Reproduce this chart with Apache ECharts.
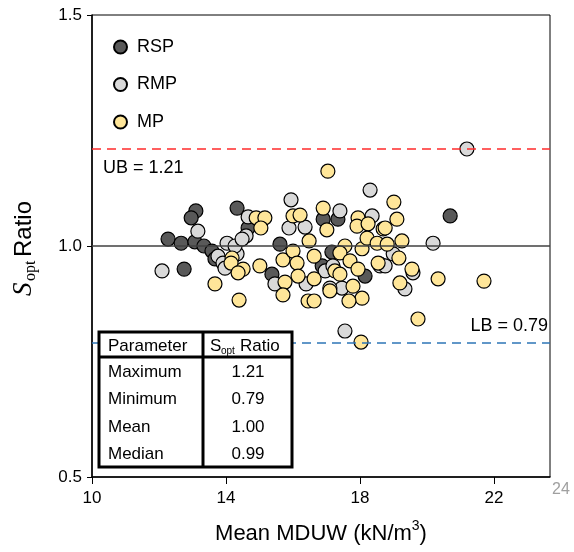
<!DOCTYPE html>
<html>
<head>
<meta charset="utf-8">
<script src="https://cdn.jsdelivr.net/npm/echarts@6/dist/echarts.min.js"></script>
<style>
html,body{margin:0;padding:0;background:#fff;}
#chart{width:574px;height:552px;}
</style>
</head>
<body>
<div id="chart"></div>
<script>
// ---- data ----
const seriesNames = ['RSP', 'RMP', 'MP'];
const rsp = [
  [13.10,1.076],[12.96,1.061],[12.27,1.015],[12.66,1.006],[13.07,1.009],[13.34,1.000],
  [12.75,0.950],[13.58,0.989],[13.67,0.972],[14.33,1.082],[14.66,1.039],[15.61,1.004],
  [15.37,0.939],[17.34,1.058],[16.90,1.058],[17.16,0.987],[16.87,0.957],[18.15,0.935],
  [18.60,0.961],[20.69,1.065]
];
const rmp = [
  [13.16,1.032],[12.09,0.946],[14.03,1.006],[13.76,0.978],[13.91,0.963],[13.97,0.952],
  [14.33,0.983],[14.27,1.000],[14.60,1.022],[14.48,1.015],[14.66,1.063],[15.94,1.100],
  [15.88,1.039],[15.46,0.918],[18.30,1.121],[17.40,1.076],[16.36,1.041],[16.96,0.946],
  [17.19,0.957],[16.39,0.918],[17.46,0.909],[17.10,0.909],[18.36,1.065],[18.60,0.957],
  [17.55,0.816],[18.99,0.983],[18.75,0.957],[19.58,0.942],[19.34,0.907],[20.18,1.006],
  [21.19,1.21]
];
const mp = [
  [14.18,0.974],[14.15,0.963],[14.51,0.950],[14.36,0.942],[13.67,0.918],[14.39,0.883],
  [14.90,1.061],[15.16,1.061],[15.04,1.039],[16.00,1.065],[15.70,0.970],[16.00,0.989],
  [16.12,0.963],[16.15,0.935],[15.01,0.957],[15.76,0.922],[15.70,0.894],[17.04,1.162],
  [16.90,1.082],[16.21,1.067],[17.01,1.035],[16.48,1.011],[16.63,0.978],[16.63,0.929],
  [17.55,1.000],[17.40,0.985],[17.70,0.968],[17.94,0.950],[17.25,0.946],[17.40,0.939],
  [17.10,0.903],[17.79,0.913],[18.06,0.887],[17.67,0.881],[16.45,0.881],[16.63,0.881],
  [17.94,1.061],[17.91,1.043],[18.24,1.048],[18.06,0.994],[18.21,1.017],[18.51,1.006],
  [18.69,1.037],[18.81,1.004],[18.54,0.963],[18.03,0.792],[19.01,1.095],[19.10,1.058],
  [18.75,1.039],[19.25,1.011],[19.16,0.974],[19.55,0.950],[19.19,0.920],[20.33,0.929],
  [21.70,0.924],[19.73,0.842]
];
const boundUB = 1.21;
const boundLB = 0.79;
const refLine = 1.0;
const xMin = 10, xMax = 23.67, xStep = 4;
const yMin = 0.5, yMax = 1.5, yStep = 0.5;
const extraXLabel = '24';
const tableHeader = ['Parameter', 'Ratio'];
const tableParams = ['Maximum', 'Minimum', 'Mean', 'Median'];
const tableValues = ['1.21', '0.79', '1.00', '0.99'];

// ---- styles ----
const colors = { RSP: '#595959', RMP: '#d9d9d9', MP: '#ffe699' };
const FONT = '"Liberation Sans", Arial, sans-serif';
const SERIF = '"Liberation Serif", "Times New Roman", serif';

const chart = echarts.init(document.getElementById('chart'), null, { renderer: 'canvas' });

function scatter(name, data, z) {
  return {
    name: name, type: 'scatter', data: data, z: z,
    symbol: 'circle', symbolSize: 14,
    itemStyle: { color: colors[name], borderColor: '#000', borderWidth: 1.2, opacity: 1 },
    emphasis: { disabled: true }
  };
}

// table geometry
const tL = 99, tT = 332, tR = 292, tB = 467, tDiv = 203, tHead = 357;
const rowY = [372, 399, 427, 454];
const tableEls = [];
tableEls.push({ type: 'rect', shape: { x: tL, y: tT, width: tR - tL, height: tB - tT },
  style: { fill: '#fff', stroke: '#000', lineWidth: 3 }, z: 100 });
tableEls.push({ type: 'line', shape: { x1: tDiv, y1: tT, x2: tDiv, y2: tB },
  style: { stroke: '#000', lineWidth: 3 }, z: 101 });
tableEls.push({ type: 'line', shape: { x1: tL, y1: tHead, x2: tR, y2: tHead },
  style: { stroke: '#000', lineWidth: 3 }, z: 101 });
tableEls.push({ type: 'text', x: 108, y: 346, z: 102,
  style: { text: tableHeader[0], font: '17px ' + FONT, fill: '#000', verticalAlign: 'middle', align: 'left' } });
tableEls.push({ type: 'text', x: 210, y: 346, z: 102,
  style: { text: 'S', font: '17px ' + FONT, fill: '#000', verticalAlign: 'middle', align: 'left' } });
tableEls.push({ type: 'text', x: 221, y: 351, z: 102,
  style: { text: 'opt', font: '10px ' + FONT, fill: '#000', verticalAlign: 'middle', align: 'left' } });
tableEls.push({ type: 'text', x: 240, y: 346, z: 102,
  style: { text: tableHeader[1], font: '17px ' + FONT, fill: '#000', verticalAlign: 'middle', align: 'left' } });
tableParams.forEach(function (p, i) {
  tableEls.push({ type: 'text', x: 108, y: rowY[i], z: 102,
    style: { text: p, font: '17px ' + FONT, fill: '#000', verticalAlign: 'middle', align: 'left' } });
  tableEls.push({ type: 'text', x: 248, y: rowY[i], z: 102,
    style: { text: tableValues[i], font: '17px ' + FONT, fill: '#000', verticalAlign: 'middle', align: 'center' } });
});

const option = {
  animation: false,
  backgroundColor: '#fff',
  grid: { left: 92, right: 24, top: 15, bottom: 75, show: true, borderColor: '#000', borderWidth: 1, backgroundColor: 'transparent' },
  legend: {
    data: seriesNames, orient: 'vertical', left: 108, top: 33,
    icon: 'circle', itemWidth: 13, itemHeight: 13, itemGap: 19.5,
    textStyle: { fontFamily: FONT, fontSize: 18, color: '#000', padding: [0, 0, 0, 5], lineHeight: 18 },
    selectedMode: false
  },
  xAxis: {
    type: 'value', min: xMin, max: xMax, interval: xStep,
    axisLine: { show: true, onZero: false, lineStyle: { color: '#000', width: 1.5 } },
    axisTick: { show: true, length: 7, lineStyle: { color: '#000', width: 1 } },
    axisLabel: { fontFamily: FONT, fontSize: 17, color: '#000', margin: 13, showMaxLabel: false },
    splitLine: { show: false },
    name: '{m|Mean MDUW (kN/m}{sup|3}{m|)}', nameLocation: 'middle', nameGap: 42,
    nameTextStyle: {
      fontFamily: FONT, fontSize: 22, color: '#000',
      rich: {
        m: { fontFamily: FONT, fontSize: 22, color: '#000', lineHeight: 26, verticalAlign: 'bottom' },
        sup: { fontFamily: FONT, fontSize: 14, color: '#000', lineHeight: 26, verticalAlign: 'top' }
      }
    }
  },
  yAxis: {
    type: 'value', min: yMin, max: yMax, interval: yStep,
    axisLine: { show: true, onZero: false, lineStyle: { color: '#000', width: 1.5 } },
    axisTick: { show: true, length: 5, lineStyle: { color: '#000', width: 1 } },
    axisLabel: { fontFamily: FONT, fontSize: 17, color: '#000', margin: 10, formatter: function (v) { return v.toFixed(1); } },
    splitLine: { show: false }
  },
  series: [
    {
      name: 'lines', type: 'line', data: [], z: 1, silent: true,
      markLine: {
        silent: true, symbol: ['none', 'none'], label: { show: false },
        data: [
          { yAxis: refLine, lineStyle: { color: '#404040', type: 'solid', width: 1.5 } },
          { yAxis: boundUB, lineStyle: { color: '#ff2b2b', type: [9, 6], width: 1.5 } },
          { yAxis: boundLB, lineStyle: { color: '#2e75b6', type: [9, 6], width: 1.5 } }
        ]
      }
    },
    scatter('RSP', rsp, 2),
    scatter('RMP', rmp, 3),
    scatter('MP', mp, 4)
  ],
  graphic: [
    { type: 'text', x: 103, y: 168, z: 50,
      style: { text: 'UB = ' + boundUB.toFixed(2), font: '18px ' + FONT, fill: '#000', verticalAlign: 'middle', align: 'left' } },
    { type: 'text', x: 548, y: 326, z: 50,
      style: { text: 'LB = ' + boundLB.toFixed(2), font: '18px ' + FONT, fill: '#000', verticalAlign: 'middle', align: 'right' } },
    { type: 'text', x: 561, y: 490, z: 50,
      style: { text: extraXLabel, font: '16px ' + FONT, fill: '#a0a0a0', verticalAlign: 'middle', align: 'center' } },
    {
      type: 'group', x: 24, y: 246, rotation: Math.PI / 2, z: 50,
      children: [
        { type: 'text', x: -50, y: 0, style: { text: 'S', font: 'italic 27px ' + SERIF, fill: '#000', verticalAlign: 'middle', align: 'left' } },
        { type: 'text', x: -35, y: 7, style: { text: 'opt', font: '16px ' + SERIF, fill: '#000', verticalAlign: 'middle', align: 'left' } },
        { type: 'text', x: -11, y: 0, style: { text: 'Ratio', font: '24px ' + FONT, fill: '#000', verticalAlign: 'middle', align: 'left' } }
      ]
    }
  ].concat(tableEls)
};
chart.setOption(option);
</script>
</body>
</html>
